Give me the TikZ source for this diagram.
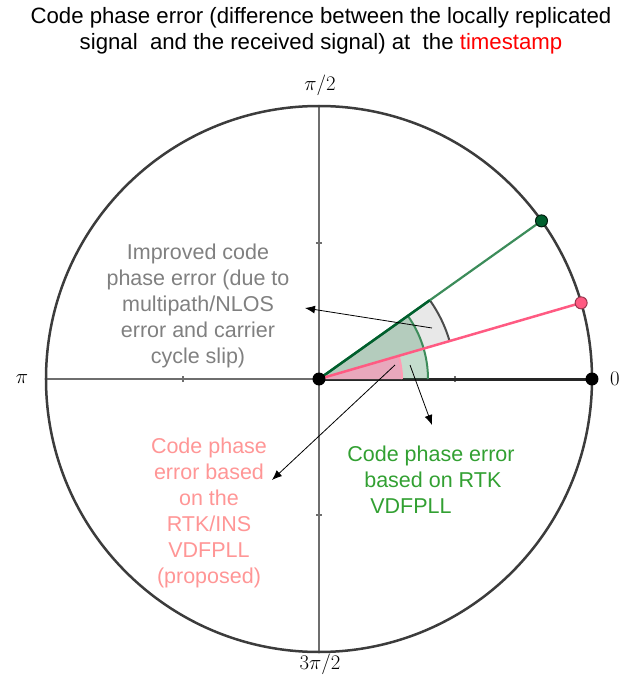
\documentclass[tikz,border=0pt]{standalone}
\usepackage{fontspec}
\setmainfont{Liberation Sans}
\usepackage{xcolor}
\usepackage{tikz}
\usetikzlibrary{arrows.meta,positioning}
\definecolor{axisgray}{RGB}{110,110,110}
\definecolor{rimgray}{RGB}{60,60,60}
\definecolor{rtkgreen}{RGB}{60,140,90}
\definecolor{darkgreen}{RGB}{0,95,45}
\definecolor{inspink}{RGB}{255,90,130}
\definecolor{insfill}{RGB}{232,168,188}
\definecolor{labgray}{RGB}{128,128,128}
\definecolor{labpink}{RGB}{255,150,150}
\definecolor{labgreen}{RGB}{50,160,50}
\tikzstyle{axis} = [draw=axisgray, line width=1.5pt]
\tikzstyle{note} = [font=\fontsize{21.5}{26}\selectfont, align=center, inner sep=0pt]
\tikzstyle{angle} = [font=\fontsize{22}{24}\selectfont, inner sep=0pt]
\tikzstyle{dot} = [circle, minimum size=13pt, inner sep=0pt]
\tikzstyle{line} = [draw, -{Latex[length=10pt,width=8pt]}, line width=0.8pt]

\begin{document}
\begin{tikzpicture}[x=1pt, y=1pt]
        \useasboundingbox (-319,-302) rectangle (301,379);
        % Circle and axes
        \draw [axis] (-273,0) -- (0,0);
        \draw [axis] (0,-273) -- (0,273);
        \foreach \t in {0,90,180,270}
            \draw [axis] (\t:136) ++(\t+90:3) -- ++(\t-90:6);
        \draw [draw=rimgray, line width=2.5pt] (0,0) circle (273);
        \draw [draw=black!85, line width=3pt] (0,0) -- (273,0);

        % Sectors
        \fill [gray!18] (0,0) -- (16.2:136) arc (16.2:35.4:136) -- cycle;
        \draw [draw=black!70, line width=2pt] (16.2:136) arc (16.2:35.4:136);
        \fill [rtkgreen, fill opacity=0.3] (0,0) -- (109,0) arc (0:35.4:109) -- cycle;
        \draw [draw=rtkgreen, line width=2pt] (109,0) arc (0:35.4:109);
        \fill [insfill] (0,0) -- (83,0) arc (0:16.2:83) -- cycle;
        \draw [draw=inspink!60, line width=2pt] (83,0) arc (0:16.2:83);

        % Phase vectors
        \draw [draw=rtkgreen, line width=2.2pt] (0,0) -- (35.4:273);
        \draw [draw=darkgreen, line width=2.5pt] (0,0) -- (35.4:136);
        \draw [draw=inspink, line width=2.5pt] (0,0) -- (16.2:273);

        % Points
        \node [dot, fill=black] (origin) at (0,0) {};
        \node [dot, fill=black] (zero) at (273,0) {};
        \node [dot, fill=darkgreen, draw=black!70!darkgreen, line width=1pt, minimum size=12pt] (rtk) at (35.4:273) {};
        \node [dot, fill=inspink, draw=inspink!60!black, line width=1pt, minimum size=12pt] (ins) at (16.2:273) {};

        % Angle labels
        \node [angle] (halfpi) at (1,294) {$\pi/2$};
        \node [angle] (pi) at (-297,0) {$\pi$};
        \node [angle] (zerolab) at (296,0) {$0$};
        \node [angle] (threehalfpi) at (1,-285) {$3\pi/2$};

        % Title
        \node [note, font=\fontsize{22.2}{26}\selectfont] (title) at (2,348) {Code phase error (difference between the locally replicated\\
            signal \ and the received signal) at \ the \textcolor{red}{timestamp}};

        % Notes
        \node [note, text=labgray] (improved) at (-121,73) {Improved code\\phase error (due to\\multipath/NLOS\\error and carrier\\cycle slip)};
        \node [note, text=labpink] (proposed) at (-110,-134) {Code phase\\error based\\on the\\RTK/INS\\VDFPLL\\(proposed)};
        \node [note, text=labgreen, align=left] (rtknote) at (112,-101) {Code phase error\\\hspace*{17pt}based on RTK\\\hspace*{23pt}VDFPLL};

        % Connections
        \coordinate (impsrc) at (113,51);
        \coordinate (rtksrc) at (91,14);
        \coordinate (inssrc) at (76,14);
        \path [line] (impsrc) -- (-14,71);
        \path [line] (rtksrc) -- (113,-46);
        \path [line] (inssrc) -- (-47,-101);
    \end{tikzpicture}
\end{document}
